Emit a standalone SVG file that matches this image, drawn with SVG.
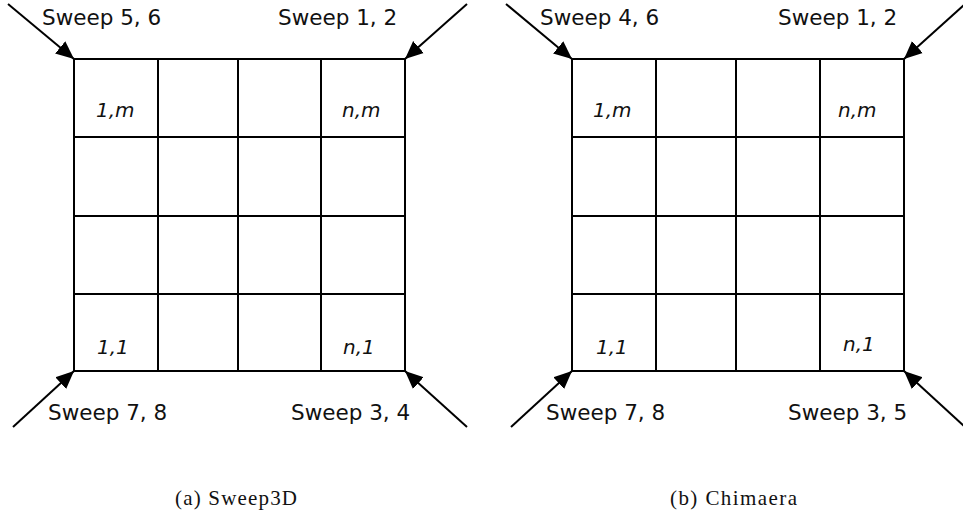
<svg xmlns="http://www.w3.org/2000/svg" width="963" height="515" viewBox="0 0 963 515">
<defs>
<marker id="ah" markerUnits="userSpaceOnUse" markerWidth="20" markerHeight="20" viewBox="0 0 20 20" refX="18" refY="10" orient="auto">
<path d="M0,2 L18,10 L0,18 Z" fill="#000"/>
</marker>
<style>
.g{fill:none;stroke:#000;stroke-width:2}
.c{stroke:#000;stroke-width:2;fill:none;marker-end:url(#ah)}
.s{font-family:"DejaVu Sans",Verdana,sans-serif;font-size:21.5px;fill:#111}
.i{font-family:"DejaVu Sans",Verdana,sans-serif;font-size:20px;font-style:italic;fill:#111}
.cap{font-family:"Liberation Serif","Times New Roman",serif;font-size:21px;fill:#111}
</style>
</defs>
<rect width="963" height="515" fill="#fff"/>
<g id="grid-a">
<rect class="g" x="74" y="59" width="331" height="312"/>
<path class="g" d="M158,59V371M238,59V371M321,59V371M74,137H405M74,216H405M74,294H405"/>
<text class="i" x="96" y="117">1,m</text>
<text class="i" x="342" y="117">n,m</text>
<text class="i" x="97" y="354">1,1</text>
<text class="i" x="343" y="354">n,1</text>
</g>
<g id="labels-a">
<text class="s" x="42" y="25">Sweep 5, 6</text>
<text class="s" x="278" y="25">Sweep 1, 2</text>
<text class="s" x="48" y="420">Sweep 7, 8</text>
<text class="s" x="291" y="420">Sweep 3, 4</text>
<text class="cap" x="175" y="505" textLength="122">(a) Sweep3D</text>
</g>
<g id="grid-b">
<rect class="g" x="572" y="59" width="332" height="312"/>
<path class="g" d="M656,59V371M736,59V371M820,59V371M572,137H904M572,216H904M572,294H904"/>
<text class="i" x="593" y="117">1,m</text>
<text class="i" x="838" y="117">n,m</text>
<text class="i" x="596" y="354">1,1</text>
<text class="i" x="843" y="351">n,1</text>
</g>
<g id="labels-b">
<text class="s" x="540" y="25">Sweep 4, 6</text>
<text class="s" x="778" y="25">Sweep 1, 2</text>
<text class="s" x="546" y="420">Sweep 7, 8</text>
<text class="s" x="788" y="420">Sweep 3, 5</text>
<text class="cap" x="670" y="505" textLength="127">(b) Chimaera</text>
</g>
<g id="connectors">
<line class="c" x1="8" y1="4" x2="74" y2="59"/>
<line class="c" x1="467" y1="4" x2="405" y2="59"/>
<line class="c" x1="13" y1="427" x2="74" y2="371"/>
<line class="c" x1="467" y1="427" x2="405" y2="371"/>
<line class="c" x1="506" y1="4" x2="572" y2="59"/>
<line class="c" x1="965" y1="4" x2="904" y2="59"/>
<line class="c" x1="511" y1="427" x2="572" y2="371"/>
<line class="c" x1="965" y1="427" x2="904" y2="371"/>
</g>
</svg>
